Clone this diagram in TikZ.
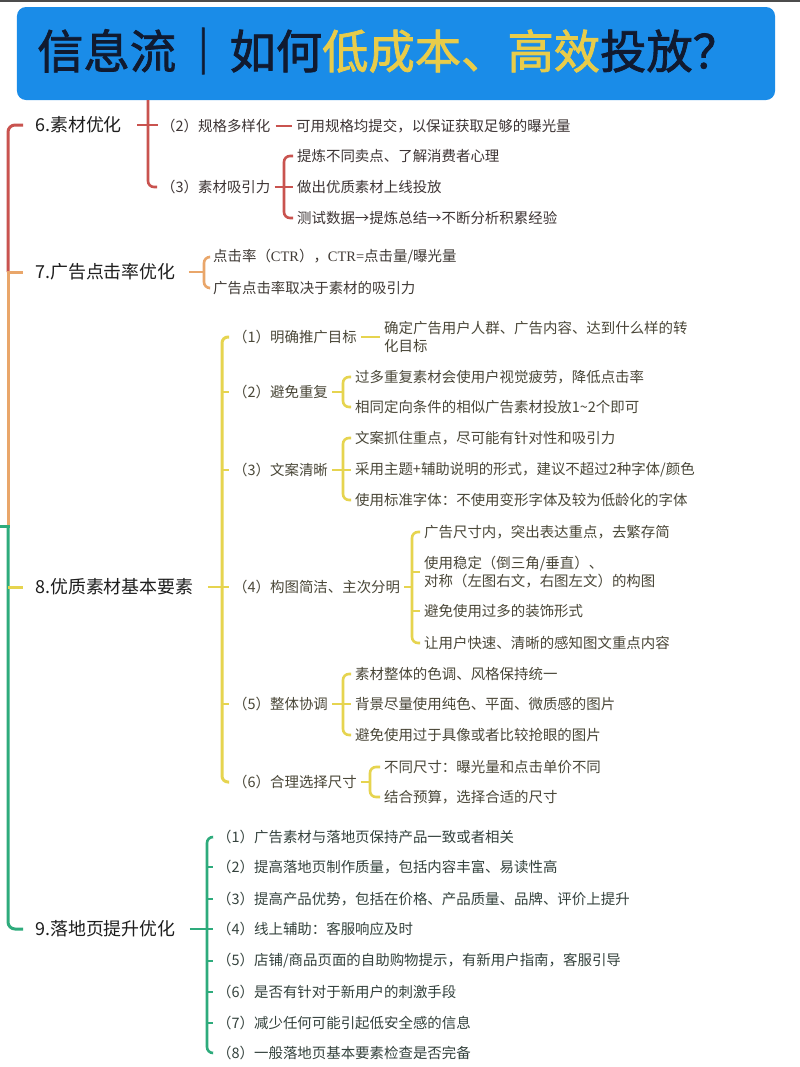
\documentclass[tikz,border=0pt]{standalone}
\usepackage{fontspec}
\setmainfont{Noto Sans CJK SC}
\newfontfamily\lserif{Liberation Serif}
\newfontfamily\ttlface[FakeBold=1.6]{Noto Sans CJK SC}
\usetikzlibrary{calc}
\definecolor{cred}{HTML}{C9534F}
\definecolor{corange}{HTML}{E9A66A}
\definecolor{cyellow}{HTML}{E6D44F}
\definecolor{cgreen}{HTML}{2EAB7C}
\definecolor{cblue}{HTML}{1A8CE8}
\definecolor{tyellow}{HTML}{E8CC4A}
\definecolor{tdark}{HTML}{101A30}
\definecolor{tlbl}{HTML}{1E1E1E}
\definecolor{txtsix}{HTML}{3D3434}
\definecolor{txtseven}{HTML}{403A35}
\definecolor{txteight}{HTML}{4A4738}
\definecolor{txtnine}{HTML}{34423D}
\newcommand\lblfont{\fontsize{18}{21}\selectfont}
\newcommand\itemfont{\fontsize{14.5}{17.5}\selectfont}
\newcommand\ttlfont{\ttlface\fontsize{46.5}{50}\selectfont}
\begin{document}
\begin{tikzpicture}[x=1bp,y=-1bp,
  lbl/.style={anchor=west,inner sep=0,font=\lblfont,text=tlbl},
  item/.style={anchor=west,inner sep=0,font=\itemfont,align=left},
  isix/.style={item,text=txtsix},
  iseven/.style={item,text=txtseven},
  ieight/.style={item,text=txteight},
  inine/.style={item,text=txtnine},
  trunk/.style={line width=3bp,rounded corners=7bp},
  t6/.style={trunk,draw=cred},
  t7/.style={trunk,draw=corange},
  t8/.style={trunk,draw=cyellow},
  t9/.style={trunk,draw=cgreen},
  brc/.style={line width=2.6bp,rounded corners=6bp},
  b6/.style={brc,draw=cred},
  b7/.style={brc,draw=corange},
  b8/.style={brc,draw=cyellow},
  b9/.style={brc,draw=cgreen},
  titlebox/.style={fill=cblue,rounded corners=9bp,minimum width=758bp,minimum height=93bp,inner sep=0}
]
\useasboundingbox (0,0) rectangle (800,1067);
\fill[white] (0,0) rectangle (800,1067);
\fill[black!70] (0,0) rectangle (800,1.5);

% title
\node[titlebox] (title) at (396,53.5) {};
\node[anchor=west,inner sep=0,font=\ttlfont] (ttext) at (37,51)
  {\textcolor{tdark}{信息流}\hspace{4bp}\textcolor{tdark}{｜}\hspace{3bp}\textcolor{tdark}{如何}\textcolor{tyellow}{低成本、}\textcolor{tyellow}{高效}\textcolor{tdark}{投放？}};

% main labels
\node[lbl] (L6) at (35,125) {6.素材优化};
\node[lbl] (L7) at (35,272) {7.广告点击率优化};
\node[lbl] (L8) at (35,587) {8.优质素材基本要素};
\node[lbl] (L9) at (35,929) {9.落地页提升优化};

% branch 6
\node[isix] (c62) at (161,126) {（2）规格多样化};
\node[isix] (d62) at (296,126) {可用规格均提交，以保证获取足够的曝光量};
\node[isix] (c63) at (161,187) {（3）素材吸引力};
\node[isix] (e631) at (297,156) {提炼不同卖点、了解消费者心理};
\node[isix] (e632) at (297,187) {做出优质素材上线投放};
\node[isix] (e633) at (297,218) {测试数据→提炼总结→不断分析积累经验};

% branch 7
\node[iseven] (d71) at (213,257) {点击率（{\lserif CTR}），{\lserif CTR=}点击量/曝光量};
\node[iseven] (d72) at (213,288) {广告点击率取决于素材的吸引力};

% branch 8
\node[ieight] (c81) at (233,337) {（1）明确推广目标};
\node[ieight] (d81) at (384,337) {确定广告用户人群、广告内容、达到什么样的转\\化目标};
\node[ieight] (c82) at (233,392) {（2）避免重复};
\node[ieight] (e821) at (355,377) {过多重复素材会使用户视觉疲劳，降低点击率};
\node[ieight] (e822) at (355,407) {相同定向条件的相似广告素材投放1\char`\~2个即可};
\node[ieight] (c83) at (233,470) {（3）文案清晰};
\node[ieight] (e831) at (355,438) {文案抓住重点，尽可能有针对性和吸引力};
\node[ieight] (e832) at (355,470) {采用主题+辅助说明的形式，建议不超过2种字体/颜色};
\node[ieight] (e833) at (355,500) {使用标准字体：不使用变形字体及较为低龄化的字体};
\node[ieight] (c84) at (233,587) {（4）构图简洁、主次分明};
\node[ieight] (e841) at (424,532) {广告尺寸内，突出表达重点，去繁存简};
\node[ieight] (e842) at (424,572) {使用稳定（倒三角/垂直）、\\对称（左图右文，右图左文）的构图};
\node[ieight] (e843) at (424,611) {避免使用过多的装饰形式};
\node[ieight] (e844) at (424,643) {让用户快速、清晰的感知图文重点内容};
\node[ieight] (c85) at (233,704) {（5）整体协调};
\node[ieight] (e851) at (355,674) {素材整体的色调、风格保持统一};
\node[ieight] (e852) at (355,704) {背景尽量使用纯色、平面、微质感的图片};
\node[ieight] (e853) at (355,735) {避免使用过于具像或者比较抢眼的图片};
\node[ieight] (c86) at (233,782) {（6）合理选择尺寸};
\node[ieight] (e861) at (384,767) {不同尺寸：曝光量和点击单价不同};
\node[ieight] (e862) at (384,797) {结合预算，选择合适的尺寸};

% branch 9
\node[inine] (f91) at (217,837) {（1）广告素材与落地页保持产品一致或者相关};
\node[inine] (f92) at (217,867) {（2）提高落地页制作质量，包括内容丰富、易读性高};
\node[inine] (f93) at (217,899) {（3）提高产品优势，包括在价格、产品质量、品牌、评价上提升};
\node[inine] (f94) at (217,929) {（4）线上辅助：客服响应及时};
\node[inine] (f95) at (217,961) {（5）店铺/商品页面的自助购物提示，有新用户指南，客服引导};
\node[inine] (f96) at (217,992) {（6）是否有针对于新用户的刺激手段};
\node[inine] (f97) at (217,1023) {（7）减少任何可能引起低安全感的信息};
\node[inine] (f98) at (217,1053) {（8）一般落地页基本要素检查是否完备};

% spine coordinates
\coordinate (T) at (8,0);
\coordinate (gtop) at (8,526);
\coordinate (s6) at (148,0);
\coordinate (s63) at (284,0);
\coordinate (s7) at (204,0);
\coordinate (s8) at (222,0);
\coordinate (s8b) at (343,0);
\coordinate (s84) at (412,0);
\coordinate (s86) at (370,0);
\coordinate (s9) at (207,0);

% trunk
\draw[t6] ([xshift=-12bp]L6.west) -| (T |- L7.west);
\draw[t7,line cap=rect] (T |- L7.west) -- (gtop);
\draw[t7] (T |- L7.west) -- ([xshift=-12bp]L7.west);
\draw[t9,line cap=rect] (1,526) -- (gtop);
\draw[t9] (gtop) -- (T |- L9.west) -- ([xshift=-12bp]L9.west);
\draw[t8] (T |- L8.west) -- ([xshift=-12bp]L8.west);

% branch 6 connectors
\draw[b6] (s6 |- title.south) -- (s6 |- c63.west) -- ([xshift=-4bp]c63.west);
\draw[b6] ($(s6 |- L6.east)+(-11,0)$) -- ($(s6 |- L6.east)+(10,0)$);
\draw[b6] ([xshift=5bp]c62.east) -- ([xshift=-4bp]d62.west);
\draw[b6] ([xshift=-4bp]e631.west) -| (s63 |- e633.west) -- ([xshift=-4bp]e633.west);
\draw[b6] (s63 |- e632.west) -- ([xshift=-4bp]e632.west);
\draw[b6] ([xshift=4bp]c63.east) -- (s63 |- c63.east);

% branch 7 connectors
\draw[b7] ([xshift=-4bp]d71.west) -| (s7 |- d72.west) -- ([xshift=-4bp]d72.west);
\draw[b7] ([xshift=13bp]L7.east) -- (s7 |- L7.east);

% branch 8 connectors
\draw[b8,line width=3bp] ([xshift=-4bp]c81.west) -| (s8 |- c86.west) -- ([xshift=-4bp]c86.west);
\foreach \c in {c82,c83,c84,c85}
  \draw[b8] (s8 |- \c.west) -- ([xshift=-4bp]\c.west);
\draw[b8] ([xshift=14bp]L8.east) -- ($(s8 |- L8.east)+(6,0)$);
\draw[b8] ([xshift=4bp]c81.east) -- ([xshift=-4bp]d81.west);
% (2)
\draw[b8] ([xshift=-4bp]e821.west) -| (s8b |- e822.west) -- ([xshift=-4bp]e822.west);
\draw[b8] ([xshift=4bp]c82.east) -- (s8b |- c82.east);
% (3)
\draw[b8] ([xshift=-4bp]e831.west) -| (s8b |- e833.west) -- ([xshift=-4bp]e833.west);
\draw[b8] (s8b |- e832.west) -- ([xshift=-4bp]e832.west);
\draw[b8] ([xshift=4bp]c83.east) -- (s8b |- c83.east);
% (4)
\draw[b8] ([xshift=-4bp]e841.west) -| (s84 |- e844.west) -- ([xshift=-4bp]e844.west);
\draw[b8] (s84 |- e842.west) -- ([xshift=-4bp]e842.west);
\draw[b8] (s84 |- e843.west) -- ([xshift=-4bp]e843.west);
\draw[b8] ([xshift=4bp]c84.east) -- (s84 |- c84.east);
% (5)
\draw[b8] ([xshift=-4bp]e851.west) -| (s8b |- e853.west) -- ([xshift=-4bp]e853.west);
\draw[b8] (s8b |- e852.west) -- ([xshift=-4bp]e852.west);
\draw[b8] ([xshift=4bp]c85.east) -- (s8b |- c85.east);
% (6)
\draw[b8] ([xshift=-4bp]e861.west) -| (s86 |- e862.west) -- ([xshift=-4bp]e862.west);
\draw[b8] ([xshift=4bp]c86.east) -- (s86 |- c86.east);

% branch 9 connectors
\draw[b9] ([xshift=-4bp]f91.west) -| (s9 |- f98.west) -- ([xshift=-4bp]f98.west);
\foreach \c in {f92,f93,f94,f95,f96,f97}
  \draw[b9] (s9 |- \c.west) -- ([xshift=-4bp]\c.west);
\draw[b9] ([xshift=14bp]L9.east) -- ($(s9 |- L9.east)+(2,0)$);
\end{tikzpicture}
\end{document}
